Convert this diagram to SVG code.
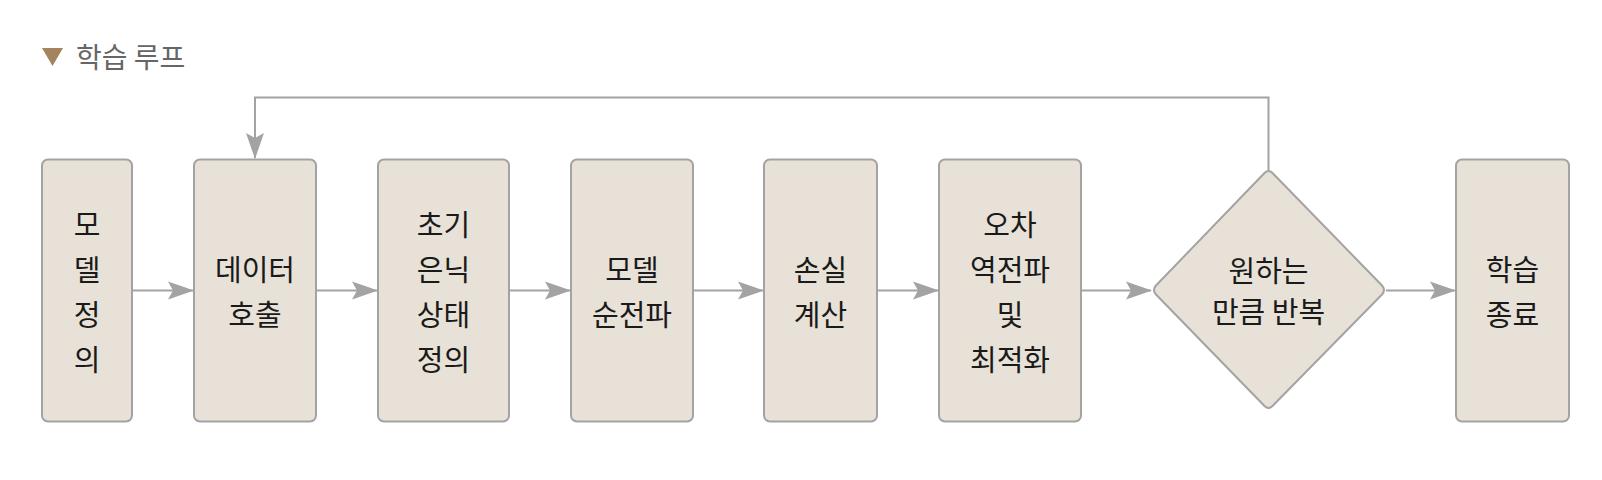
<svg xmlns="http://www.w3.org/2000/svg" width="1602" height="480" viewBox="0 0 1602 480">
<style>
.box{fill:#e8e1d7;stroke:#a3a3a3;stroke-width:2}
.lbl{font-family:"Noto Sans CJK KR","Noto Sans",sans-serif;font-size:29px;fill:#1a1a1a;text-anchor:middle;dominant-baseline:central}
.conn{fill:none;stroke:#a3a3a3;stroke-width:2}
</style>
<defs>
<marker id="ah" markerUnits="userSpaceOnUse" markerWidth="26" markerHeight="20" viewBox="0 0 26 20" refX="25" refY="10" orient="auto">
<path d="M0,1 L26,10 L0,19 L5,10 Z" fill="#a3a3a3"/>
</marker>
</defs>
<g id="title">
<polygon points="42,48 63,48 52.5,66" fill="#a4845f"/>
<text x="76" y="56" style="font-family:'Noto Sans CJK KR','Noto Sans',sans-serif;font-size:28px;fill:#666;dominant-baseline:central">학습 루프</text>
</g>
<g id="connectors">
<line class="conn" x1="132" y1="290.5" x2="193" y2="290.5" marker-end="url(#ah)"/>
<line class="conn" x1="316" y1="290.5" x2="377" y2="290.5" marker-end="url(#ah)"/>
<line class="conn" x1="509" y1="290.5" x2="570" y2="290.5" marker-end="url(#ah)"/>
<line class="conn" x1="693" y1="290.5" x2="763" y2="290.5" marker-end="url(#ah)"/>
<line class="conn" x1="877" y1="290.5" x2="938" y2="290.5" marker-end="url(#ah)"/>
<line class="conn" x1="1081" y1="290.5" x2="1151" y2="290.5" marker-end="url(#ah)"/>
<line class="conn" x1="1386" y1="290.5" x2="1455" y2="290.5" marker-end="url(#ah)"/>
<polyline class="conn" points="1268.5,170 1268.5,97.5 255,97.5 255,158" marker-end="url(#ah)"/>
</g>
<g id="n1">
<rect class="box" x="42" y="159.5" width="90" height="262" rx="6"/>
<text class="lbl" x="87" y="223">모</text>
<text class="lbl" x="87" y="268">델</text>
<text class="lbl" x="87" y="313">정</text>
<text class="lbl" x="87" y="358">의</text>
</g>
<g id="n2">
<rect class="box" x="194" y="159.5" width="122" height="262" rx="6"/>
<text class="lbl" x="255" y="268">데이터</text>
<text class="lbl" x="255" y="313">호출</text>
</g>
<g id="n3">
<rect class="box" x="378" y="159.5" width="131" height="262" rx="6"/>
<text class="lbl" x="443.5" y="223">초기</text>
<text class="lbl" x="443.5" y="268">은닉</text>
<text class="lbl" x="443.5" y="313">상태</text>
<text class="lbl" x="443.5" y="358">정의</text>
</g>
<g id="n4">
<rect class="box" x="571" y="159.5" width="122" height="262" rx="6"/>
<text class="lbl" x="632" y="268">모델</text>
<text class="lbl" x="632" y="313">순전파</text>
</g>
<g id="n5">
<rect class="box" x="764" y="159.5" width="113" height="262" rx="6"/>
<text class="lbl" x="820.5" y="268">손실</text>
<text class="lbl" x="820.5" y="313">계산</text>
</g>
<g id="n6">
<rect class="box" x="939" y="159.5" width="142" height="262" rx="6"/>
<text class="lbl" x="1010" y="223">오차</text>
<text class="lbl" x="1010" y="268">역전파</text>
<text class="lbl" x="1010" y="313">및</text>
<text class="lbl" x="1010" y="358">최적화</text>
</g>
<g id="n7">
<path class="box" d="M1264.5,173 Q1268.5,169 1272.5,173 L1382,285.5 Q1386,290 1382,294.5 L1272.5,406 Q1268.5,410 1264.5,406 L1156,294.5 Q1152,290 1156,285.5 Z" stroke-linejoin="round"/>
<text class="lbl" x="1268.5" y="269">원하는</text>
<text class="lbl" x="1268.5" y="310">만큼 반복</text>
</g>
<g id="n8">
<rect class="box" x="1456" y="159.5" width="113" height="262" rx="6"/>
<text class="lbl" x="1512.5" y="268">학습</text>
<text class="lbl" x="1512.5" y="313">종료</text>
</g>
</svg>
